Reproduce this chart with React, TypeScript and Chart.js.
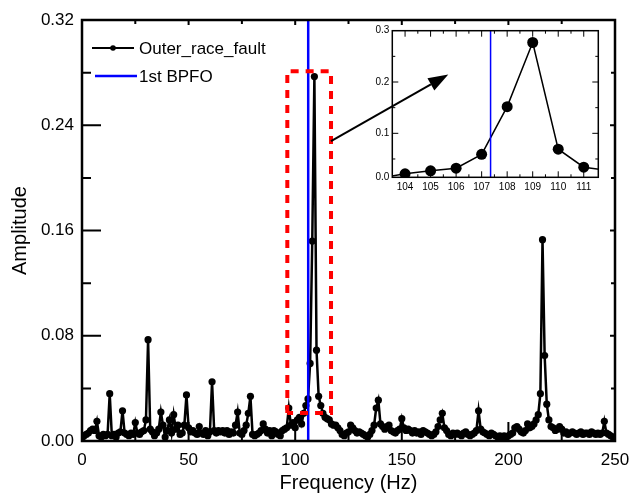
import React, { useEffect, useRef } from "react";
import { Chart, registerables } from "chart.js";

Chart.register(...registerables);

const FONT = '"Liberation Sans", Arial, Helvetica, sans-serif';

// Spectrum: 1 Hz resolution, starting at 0 Hz
const FREQ_STEP = 1;
const amplitude = [
  0.002, 0.004, 0.005, 0.006, 0.008, 0.009, 0.008, 0.015, 0.004, 0.003,
  0.005, 0.004, 0.005, 0.036, 0.004, 0.005, 0.003, 0.006, 0.007, 0.023,
  0.006, 0.005, 0.004, 0.006, 0.005, 0.014, 0.006, 0.005, 0.007, 0.008,
  0.016, 0.077, 0.009, 0.007, 0.004, 0.006, 0.009, 0.022, 0.012, 0.003,
  0.008, 0.016, 0.006, 0.020, 0.009, 0.012, 0.005, 0.006, 0.012, 0.035,
  0.010, 0.007, 0.008, 0.006, 0.005, 0.011, 0.006, 0.005, 0.008, 0.004,
  0.007, 0.045, 0.008, 0.006, 0.008, 0.007, 0.008, 0.006, 0.008, 0.005,
  0.007, 0.006, 0.012, 0.022, 0.006, 0.005, 0.008, 0.012, 0.021, 0.034,
  0.005, 0.004, 0.005, 0.006, 0.008, 0.013, 0.009, 0.006, 0.008, 0.004,
  0.008, 0.007, 0.005, 0.004, 0.008, 0.009, 0.010, 0.025, 0.012, 0.014,
  0.010, 0.016, 0.018, 0.013, 0.021, 0.027, 0.032, 0.059, 0.152, 0.277,
  0.069, 0.034, 0.027, 0.021, 0.018, 0.017, 0.016, 0.013, 0.012, 0.012,
  0.010, 0.008, 0.005, 0.004, 0.006, 0.007, 0.012, 0.010, 0.008, 0.006,
  0.007, 0.006, 0.005, 0.004, 0.003, 0.005, 0.008, 0.012, 0.025, 0.031,
  0.013, 0.011, 0.009, 0.011, 0.012, 0.008, 0.007, 0.006, 0.008, 0.009,
  0.017, 0.010, 0.008, 0.009, 0.008, 0.006, 0.008, 0.006, 0.007, 0.005,
  0.008, 0.007, 0.006, 0.005, 0.004, 0.005, 0.007, 0.011, 0.016, 0.021,
  0.010, 0.008, 0.005, 0.004, 0.006, 0.005, 0.006, 0.005, 0.004, 0.006,
  0.007, 0.005, 0.004, 0.005, 0.006, 0.008, 0.023, 0.009, 0.007, 0.006,
  0.005, 0.004, 0.006, 0.005, 0.004, 0.003, 0.004, 0.003, 0.004, 0.003,
  0.004, 0.005, 0.006, 0.010, 0.011, 0.009, 0.007, 0.006, 0.008, 0.013,
  0.010, 0.011, 0.013, 0.016, 0.020, 0.036, 0.153, 0.065, 0.028, 0.016,
  0.011, 0.010, 0.008, 0.009, 0.011, 0.009, 0.006, 0.007, 0.005, 0.006,
  0.007, 0.006, 0.005, 0.006, 0.007, 0.005, 0.006, 0.006, 0.005, 0.007,
  0.006, 0.005, 0.006, 0.005, 0.006, 0.015, 0.006, 0.005, 0.004, 0.003,
  0.003,
];

const bpfoMain = 106.1; // blue marker in the main plot
const bpfoInset = 107.35; // blue marker in the inset
const zoomBoxX = [96.3, 116.8];
const zoomBoxY = [0.0213, 0.281];
const arrowFrom = [116.8, 0.228];
const arrowTo = [171.8, 0.2785];

const xTicks = [0, 50, 100, 150, 200, 250];
const xMinorTicks = [25, 75, 125, 175, 225];
const yTicks = [0, 0.08, 0.16, 0.24, 0.32];
const yMinorTicks = [0.04, 0.12, 0.2, 0.28];

const insetXRange = [103.5, 111.57];
const insetYRange = [0.0143, 0.3];
const insetXTicks = [104, 105, 106, 107, 108, 109, 110, 111];
const insetXMinorTicks = [104.5, 105.5, 106.5, 107.5, 108.5, 109.5, 110.5];
const insetYTicks = [0.0143, 0.1, 0.2, 0.3];
const insetYMinorTicks = [0.05, 0.15, 0.25];

const legendLabels = ["Outer_race_fault", "1st BPFO"];

type FrameCfg = {
  xMajor: number[];
  xMinor: number[];
  yMajor: number[];
  yMinor: number[];
  major: number;
  minor: number;
  mirrorMajor: number;
  mirrorMinor: number;
  frameWidth: number;
  tickWidth: number;
};

function framePlugin(cfg: FrameCfg) {
  return {
    id: "frameTicks",
    afterDatasetsDraw(chart: any) {
      const { ctx, chartArea: a, scales } = chart;
      const xs = scales.x;
      const ys = scales.y;
      ctx.save();
      ctx.strokeStyle = "#000";
      ctx.lineCap = "butt";
      ctx.lineWidth = cfg.tickWidth;
      ctx.beginPath();
      const seg = (x1: number, y1: number, x2: number, y2: number) => {
        ctx.moveTo(x1, y1);
        ctx.lineTo(x2, y2);
      };
      const xt = (vals: number[], len: number, mlen: number) =>
        vals.forEach((v) => {
          const p = xs.getPixelForValue(v);
          seg(p, a.bottom, p, a.bottom - len);
          seg(p, a.top, p, a.top + mlen);
        });
      const yt = (vals: number[], len: number, mlen: number) =>
        vals.forEach((v) => {
          const p = ys.getPixelForValue(v);
          seg(a.left, p, a.left + len, p);
          seg(a.right, p, a.right - mlen, p);
        });
      xt(cfg.xMajor, cfg.major, cfg.mirrorMajor);
      xt(cfg.xMinor, cfg.minor, cfg.mirrorMinor);
      yt(cfg.yMajor, cfg.major, cfg.mirrorMajor);
      yt(cfg.yMinor, cfg.minor, cfg.mirrorMinor);
      ctx.stroke();
      ctx.lineWidth = cfg.frameWidth;
      ctx.strokeRect(a.left, a.top, a.right - a.left, a.bottom - a.top);
      ctx.restore();
    },
  };
}

const arrowPlugin = {
  id: "arrow",
  afterDatasetsDraw(chart: any) {
    const { ctx, scales } = chart;
    const x1 = scales.x.getPixelForValue(arrowFrom[0]);
    const y1 = scales.y.getPixelForValue(arrowFrom[1]);
    const x2 = scales.x.getPixelForValue(arrowTo[0]);
    const y2 = scales.y.getPixelForValue(arrowTo[1]);
    const ang = Math.atan2(y2 - y1, x2 - x1);
    const headLen = 20;
    const headHalf = 7;
    const bx = x2 - headLen * Math.cos(ang);
    const by = y2 - headLen * Math.sin(ang);
    ctx.save();
    ctx.strokeStyle = "#000";
    ctx.fillStyle = "#000";
    ctx.lineWidth = 2;
    ctx.beginPath();
    ctx.moveTo(x1, y1);
    ctx.lineTo(bx, by);
    ctx.stroke();
    ctx.beginPath();
    ctx.moveTo(x2, y2);
    ctx.lineTo(bx + headHalf * Math.sin(ang), by - headHalf * Math.cos(ang));
    ctx.lineTo(bx - headHalf * Math.sin(ang), by + headHalf * Math.cos(ang));
    ctx.closePath();
    ctx.fill();
    ctx.restore();
  },
};

const legendPlugin = {
  id: "customLegend",
  afterDraw(chart: any) {
    const { ctx, chartArea: a } = chart;
    ctx.save();
    ctx.font = `17px ${FONT}`;
    ctx.textBaseline = "middle";
    ctx.textAlign = "left";
    ctx.fillStyle = "#000";
    // entry 1: line + dot
    const y1 = a.top + 28;
    ctx.strokeStyle = "#000";
    ctx.lineWidth = 2;
    ctx.beginPath();
    ctx.moveTo(a.left + 10, y1);
    ctx.lineTo(a.left + 52, y1);
    ctx.stroke();
    ctx.beginPath();
    ctx.arc(a.left + 31, y1, 2.8, 0, Math.PI * 2);
    ctx.fill();
    ctx.fillText(legendLabels[0], a.left + 57, y1 + 1);
    // entry 2: blue line
    const y2 = a.top + 56;
    ctx.strokeStyle = "#0000ff";
    ctx.lineWidth = 2.5;
    ctx.beginPath();
    ctx.moveTo(a.left + 13, y2);
    ctx.lineTo(a.left + 55, y2);
    ctx.stroke();
    ctx.fillText(legendLabels[1], a.left + 57, y2 + 1);
    ctx.restore();
  },
};

const spectrum = amplitude.map((y, i) => ({ x: i * FREQ_STEP, y }));

const fixX = (h: number) => (s: any) => {
  s.height = h;
  s.paddingLeft = 0;
  s.paddingRight = 0;
};
const fixY = (w: number) => (s: any) => {
  s.width = w;
  s.paddingTop = 0;
  s.paddingBottom = 0;
};

export default function App() {
  const mainRef = useRef<HTMLCanvasElement>(null);
  const insetRef = useRef<HTMLCanvasElement>(null);

  useEffect(() => {
    const main = new Chart(mainRef.current as HTMLCanvasElement, {
      type: "line",
      data: {
        datasets: [
          {
            label: "zoom box",
            data: [
              { x: zoomBoxX[0], y: zoomBoxY[0] },
              { x: zoomBoxX[0], y: zoomBoxY[1] },
              { x: zoomBoxX[1], y: zoomBoxY[1] },
              { x: zoomBoxX[1], y: zoomBoxY[0] },
              { x: zoomBoxX[0], y: zoomBoxY[0] },
            ],
            borderColor: "#ff0000",
            borderWidth: 4,
            borderDash: [8, 7],
            pointRadius: 0,
            fill: false,
            order: 1,
          },
          {
            label: legendLabels[1],
            data: [
              { x: bpfoMain, y: 0 },
              { x: bpfoMain, y: 0.32 },
            ],
            borderColor: "#0000ff",
            borderWidth: 2.5,
            pointRadius: 0,
            fill: false,
            order: 2,
          },
          {
            label: legendLabels[0],
            data: spectrum,
            borderColor: "#000",
            backgroundColor: "#000",
            borderWidth: 2.5,
            pointRadius: 3.6,
            pointBorderWidth: 0,
            pointBackgroundColor: "#000",
            fill: false,
            order: 3,
          },
        ],
      },
      options: {
        responsive: false,
        animation: false,
        events: [],
        layout: { padding: { left: 0, right: 17, top: 20, bottom: 0 } },
        plugins: { legend: { display: false }, tooltip: { enabled: false } },
        scales: {
          x: {
            type: "linear",
            min: 0,
            max: 250,
            afterBuildTicks: (s: any) => {
              s.ticks = xTicks.map((v) => ({ value: v }));
            },
            afterFit: fixX(54),
            grid: { display: false, drawTicks: false },
            border: { display: false },
            ticks: {
              autoSkip: false,
              maxRotation: 0,
              padding: 9,
              color: "#000",
              font: { family: FONT, size: 17 },
              callback: (v: any) => String(v),
            },
            title: {
              display: true,
              text: "Frequency (Hz)",
              color: "#000",
              font: { family: FONT, size: 20 },
              padding: { top: 0, bottom: 0 },
            },
          },
          y: {
            type: "linear",
            min: 0,
            max: 0.32,
            afterBuildTicks: (s: any) => {
              s.ticks = yTicks.map((v) => ({ value: v }));
            },
            afterFit: fixY(82),
            grid: { display: false, drawTicks: false },
            border: { display: false },
            ticks: {
              autoSkip: false,
              padding: 8,
              color: "#000",
              font: { family: FONT, size: 17 },
              callback: (v: any) => Number(v).toFixed(2),
            },
            title: {
              display: true,
              text: "Amplitude",
              color: "#000",
              font: { family: FONT, size: 20 },
              padding: { top: 8, bottom: 0 },
            },
          },
        },
      },
      plugins: [
        framePlugin({
          xMajor: xTicks,
          xMinor: xMinorTicks,
          yMajor: yTicks,
          yMinor: yMinorTicks,
          major: 19,
          minor: 9,
          mirrorMajor: 5,
          mirrorMinor: 4,
          frameWidth: 2.5,
          tickWidth: 2,
        }),
        arrowPlugin,
        legendPlugin,
      ],
    } as any);

    const inset = new Chart(insetRef.current as HTMLCanvasElement, {
      type: "line",
      data: {
        datasets: [
          {
            label: "BPFO",
            data: [
              { x: bpfoInset, y: insetYRange[0] },
              { x: bpfoInset, y: insetYRange[1] },
            ],
            borderColor: "#0000ff",
            borderWidth: 1.5,
            pointRadius: 0,
            fill: false,
            order: 1,
          },
          {
            label: "spectrum",
            data: spectrum,
            borderColor: "#000",
            backgroundColor: "#000",
            borderWidth: 1.5,
            pointRadius: 5.5,
            pointBorderWidth: 0,
            pointBackgroundColor: "#000",
            fill: false,
            order: 2,
          },
        ],
      },
      options: {
        responsive: false,
        animation: false,
        events: [],
        layout: { padding: { left: 0, right: 21.7, top: 10.7, bottom: 0 } },
        plugins: { legend: { display: false }, tooltip: { enabled: false } },
        scales: {
          x: {
            type: "linear",
            min: insetXRange[0],
            max: insetXRange[1],
            afterBuildTicks: (s: any) => {
              s.ticks = insetXTicks.map((v) => ({ value: v }));
            },
            afterFit: fixX(22.7),
            grid: { display: false, drawTicks: false },
            border: { display: false },
            ticks: {
              autoSkip: false,
              maxRotation: 0,
              padding: 4,
              color: "#000",
              font: { family: FONT, size: 10 },
              callback: (v: any) => Number(v).toFixed(0),
            },
          },
          y: {
            type: "linear",
            min: insetYRange[0],
            max: insetYRange[1],
            afterBuildTicks: (s: any) => {
              s.ticks = insetYTicks.map((v) => ({ value: v }));
            },
            afterFit: fixY(42.3),
            grid: { display: false, drawTicks: false },
            border: { display: false },
            ticks: {
              autoSkip: false,
              padding: 3,
              color: "#000",
              font: { family: FONT, size: 10 },
              callback: (v: any) => Number(v).toFixed(1),
            },
          },
        },
      },
      plugins: [
        framePlugin({
          xMajor: insetXTicks,
          xMinor: insetXMinorTicks,
          yMajor: insetYTicks.slice(1, 3),
          yMinor: insetYMinorTicks,
          major: 6,
          minor: 3,
          mirrorMajor: 6,
          mirrorMinor: 3,
          frameWidth: 1.5,
          tickWidth: 1,
        }),
      ],
    } as any);

    return () => {
      main.destroy();
      inset.destroy();
    };
  }, []);

  return (
    <div
      style={{
        position: "absolute",
        left: 0,
        top: 0,
        width: 632,
        height: 495,
        background: "#fff",
      }}
    >
      <canvas
        ref={mainRef}
        width={632}
        height={495}
        style={{ position: "absolute", left: 0, top: 0, width: 632, height: 495 }}
      />
      <canvas
        ref={insetRef}
        width={270}
        height={180}
        style={{ position: "absolute", left: 350, top: 20, width: 270, height: 180 }}
      />
    </div>
  );
}
